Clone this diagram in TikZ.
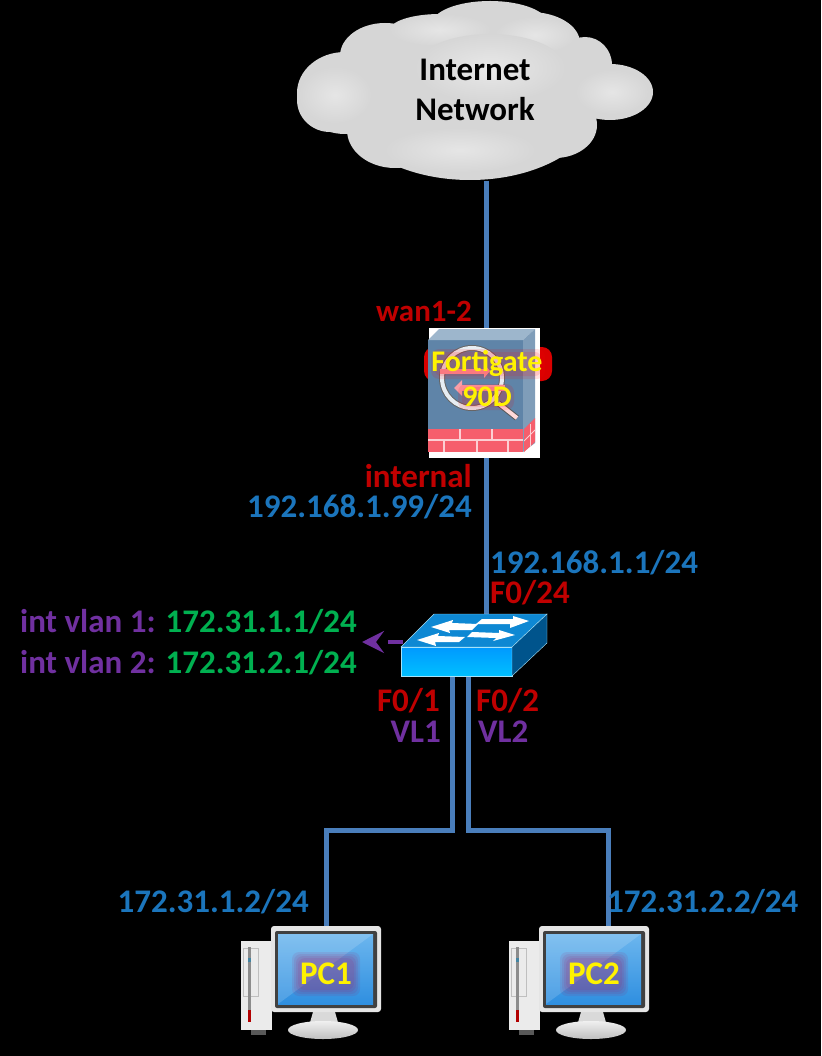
\documentclass[tikz,border=0pt]{standalone}
\usepackage{fontspec}
\setmainfont{Carlito}
\usetikzlibrary{arrows.meta}
\definecolor{linkblue}{HTML}{4A7EBB}
\definecolor{ipblue}{HTML}{1B75BC}
\definecolor{portred}{HTML}{C00000}
\definecolor{vlanpurple}{HTML}{7030A0}
\definecolor{ipgreen}{HTML}{00B050}
\definecolor{brickred}{HTML}{F65E6C}
\definecolor{fwfront}{HTML}{5F84A8}
\definecolor{fwtop}{HTML}{9DB6CC}
\definecolor{fwside}{HTML}{7F9DB9}
\definecolor{screentop}{HTML}{6CB6EE}
\definecolor{screenlow}{HTML}{2F8FE0}
\tikzset{
  lbl/.style={font=\fontsize{33}{33}\selectfont\bfseries, inner sep=0pt},
  link/.style={draw=linkblue, line width=5pt},
  cloudpart/.style={fill=black!16},
  hotlbl/.style={font=\fontsize{30}{30}\selectfont\bfseries, inner sep=0pt, text=yellow},
}
\begin{document}
\begin{tikzpicture}[x=1pt, y=-1pt]
\useasboundingbox (0,0) rectangle (821,1056);
\fill[black] (0,0) rectangle (821,1056);

% Cloud
\fill[cloudpart] (345,93) ellipse [x radius=48, y radius=41];
\fill[cloudpart] (330,100) ellipse [x radius=33, y radius=32];
\fill[cloudpart] (385,56) ellipse [x radius=45, y radius=33];
\fill[cloudpart] (490,24) ellipse [x radius=58, y radius=23];
\fill[cloudpart] (530,43) ellipse [x radius=50, y radius=31];
\fill[cloudpart] (585,65) ellipse [x radius=27, y radius=28];
\fill[cloudpart] (610,92) ellipse [x radius=43, y radius=28];
\fill[cloudpart] (395,130) ellipse [x radius=48, y radius=38];
\fill[cloudpart] (555,125) ellipse [x radius=42, y radius=33];
\fill[cloudpart] (470,100) ellipse [x radius=130, y radius=80];
\shade[inner color=black!10, outer color=black!16] (335,95) ellipse [x radius=36, y radius=28];
\shade[inner color=black!10, outer color=black!16] (612,92) ellipse [x radius=36, y radius=22];
\shade[inner color=black!10, outer color=black!16] (460,150) ellipse [x radius=75, y radius=22];
\shade[inner color=black!10, outer color=black!16] (440,30) ellipse [x radius=50, y radius=16];
\shade[inner color=black!10, outer color=black!16] (535,35) ellipse [x radius=40, y radius=18];
\shade[inner color=black!9, outer color=black!16] (490,68) ellipse [x radius=75, y radius=34];
\node[lbl, font=\fontsize{33}{40}\selectfont\bfseries, align=center, minimum width=356pt, minimum height=182pt, text=black] (cloud) at (475,90) {Internet\\Network};

% Firewall
\fill[red!85!black, rounded corners=10pt] (424,347) rectangle (552,381);
\node[fill=white, minimum width=111pt, minimum height=130pt, inner sep=0pt] (fw) at (484,393) {};
\fill[fwfront] (428,340) -- (523,340) -- (523,452) -- (428,452) -- cycle;
\fill[fwtop] (428,340) -- (439,329) -- (535,329) -- (523,340) -- cycle;
\fill[fwside] (523,340) -- (535,329) -- (535,443) -- (523,452) -- cycle;
\draw[black!65, line width=6pt] (498,403) -- (517,418);
\draw[white!85!red, line width=4pt] (498,403) -- (517,418);
\draw[black!60, line width=6pt] (472,378) circle (30);
\draw[white!85!fwfront, line width=4pt] (472,378) circle (30);
\fill[brickred!60!white] (440,369) rectangle (484,374);
\fill[brickred!60!white] (484,364) -- (490,371) -- (484,378) -- cycle;
\fill[brickred!60!white] (462,385) rectangle (505,391);
\fill[brickred!60!white] (462,380) -- (454,388) -- (462,396) -- cycle;
\fill[brickred] (428,429) rectangle (523,452);
\draw[white!70!brickred, line width=1.5pt] (428,440) -- (523,440);
\draw[white!70!brickred, line width=1.5pt] (460,429) -- (460,440);
\draw[white!70!brickred, line width=1.5pt] (492,429) -- (492,440);
\draw[white!70!brickred, line width=1.5pt] (444,440) -- (444,452);
\draw[white!70!brickred, line width=1.5pt] (477,440) -- (477,452);
\draw[white!70!brickred, line width=1.5pt] (508,440) -- (508,452);
\fill[brickred] (524,429) -- (535,418) -- (535,442) -- (524,452) -- cycle;
\draw[white!70!brickred, line width=1pt] (524,441) -- (535,430);
\draw[white!70!brickred, line width=1pt] (530,424) -- (530,447);
\fill[red, opacity=.12, rounded corners=8pt] (431,349) rectangle (545,379);
\fill[red, opacity=.12, rounded corners=6pt] (435,352) rectangle (541,376);
\fill[red, opacity=.12, rounded corners=8pt] (458,384) rectangle (514,410);
\fill[red, opacity=.12, rounded corners=6pt] (462,387) rectangle (510,407);
\node[hotlbl] (fwname) at (487,363) {Fortigate};
\node[hotlbl] (fwmodel) at (487,397) {90D};

% Switch
\node[minimum width=146pt, minimum height=62pt, inner sep=0pt] (sw) at (474,645) {};
\draw[link] ([xshift=2pt]fw.north) -- ([xshift=2pt]fw.north |- cloud.south);
\draw[link] ([xshift=2pt]fw.south) -- ([xshift=12pt]sw.north);
\coordinate (pc1port) at (326,932);
\coordinate (pc2port) at (608,932);
\draw[link] ([xshift=-22pt]sw.south) -- ++(0,154) -| (pc1port);
\draw[link] ([xshift=-6pt]sw.south) -- ++(0,154) -| (pc2port);
\fill[cyan!70!blue, draw=cyan!35!white] (434,614) -- (547,614) -- (512,647) -- (401,647) -- cycle;
\shade[top color=cyan!60!blue, bottom color=cyan!75!blue, draw=cyan!35!white] (401,647) rectangle (512,676);
\fill[blue!40!cyan!55!black, draw=cyan!35!white] (512,647) -- (547,614) -- (547,643) -- (512,676) -- cycle;
\fill[white] (431,627) -- (453,620) -- (452,623) -- (478,624) -- (472,630) -- (449,630) -- (450,633) -- cycle;
\fill[white] (529,621) -- (513,616) -- (513,619) -- (482,619) -- (476,624) -- (510,624) -- (510,628) -- cycle;
\fill[white] (417,640) -- (439,633) -- (438,636) -- (465,637) -- (459,642) -- (435,642) -- (436,646) -- cycle;
\fill[white] (515,635) -- (499,630) -- (499,633) -- (472,632) -- (467,637) -- (496,638) -- (493,641) -- cycle;
\coordinate (vlantip) at (362,642);
\draw[vlanpurple, line width=4pt, dash pattern=on 15pt off 20pt, -{Stealth[length=22pt, width=22pt, inset=8pt]}] (sw.west |- vlantip) ++(2,0) -- (vlantip);

% PCs
\foreach \pcx/\pcname in {326/PC1, 594/PC2} {
  \begin{scope}[shift={(\pcx,0)}]
    \fill[black!8] (-85,941) rectangle (-54,1030);
    \draw[black!25, line width=1pt] (-83,948) rectangle (-68,996);
    \fill[black!45] (-78,947) rectangle (-75,1022);
    \fill[cyan!60!black] (-78,958) rectangle (-75,962);
    \fill[red!70!black] (-78,1010) rectangle (-75,1022);
    \fill[black!65] (-75,1030) rectangle (-60,1035);
    \fill[black!15] (-13,1012) -- (9,1012) -- (13,1026) -- (-17,1026) -- cycle;
    \shade[top color=black!6, bottom color=black!25] (-3,1030) ellipse [x radius=35, y radius=9];
    \node[fill=black!10, rounded corners=3pt, minimum width=110pt, minimum height=86pt, inner sep=0pt] (\pcname) at (0,969) {};
    \fill[black!75, rounded corners=2pt] (-51,931) rectangle (51,1008);
    \shade[top color=screentop, bottom color=screenlow] (-48,934) rectangle (47,1004);
    \fill[white, opacity=.15] (-48,934) -- (47,934) -- (-48,1004) -- cycle;
    \foreach \glow in {0,2,4,6} {
      \fill[red!70!blue, opacity=.09, rounded corners=7pt] (-34+\glow,952+\glow) rectangle (34-\glow,996-\glow);
    }
    \node[hotlbl, font=\fontsize{33}{33}\selectfont\bfseries] (\pcname name) at (0,974) {\pcname};
  \end{scope}
}

% Labels
\node[lbl, font=\fontsize{31}{31}\selectfont\bfseries, text=portred, anchor=east] (wanlbl) at (472,311) {wan1-2};
\node[lbl, text=portred, anchor=east] (intlbl) at (472,476) {internal};
\node[lbl, text=ipblue, anchor=east] (fwip) at (472,507) {192.168.1.99/24};
\node[lbl, text=ipblue, anchor=west] (swip) at (490,563) {192.168.1.1/24};
\node[lbl, text=portred, anchor=west] (swup) at (490,593) {F0/24};
\node[lbl, text=vlanpurple, anchor=west] (vlanone) at (20,622) {int vlan 1: \textcolor{ipgreen}{172.31.1.1/24}};
\node[lbl, text=vlanpurple, anchor=west] (vlantwo) at (20,663) {int vlan 2: \textcolor{ipgreen}{172.31.2.1/24}};
\node[lbl, text=portred, anchor=east] (fone) at (440,701) {F0/1};
\node[lbl, text=vlanpurple, anchor=east] (vlone) at (441,732) {VL1};
\node[lbl, text=portred, anchor=west] (ftwo) at (476,701) {F0/2};
\node[lbl, text=vlanpurple, anchor=west] (vltwo) at (478,732) {VL2};
\node[lbl, text=ipblue, anchor=east] (pconeip) at (309,902) {172.31.1.2/24};
\node[lbl, text=ipblue, anchor=west] (pctwoip) at (607,902) {172.31.2.2/24};

\end{tikzpicture}
\end{document}
